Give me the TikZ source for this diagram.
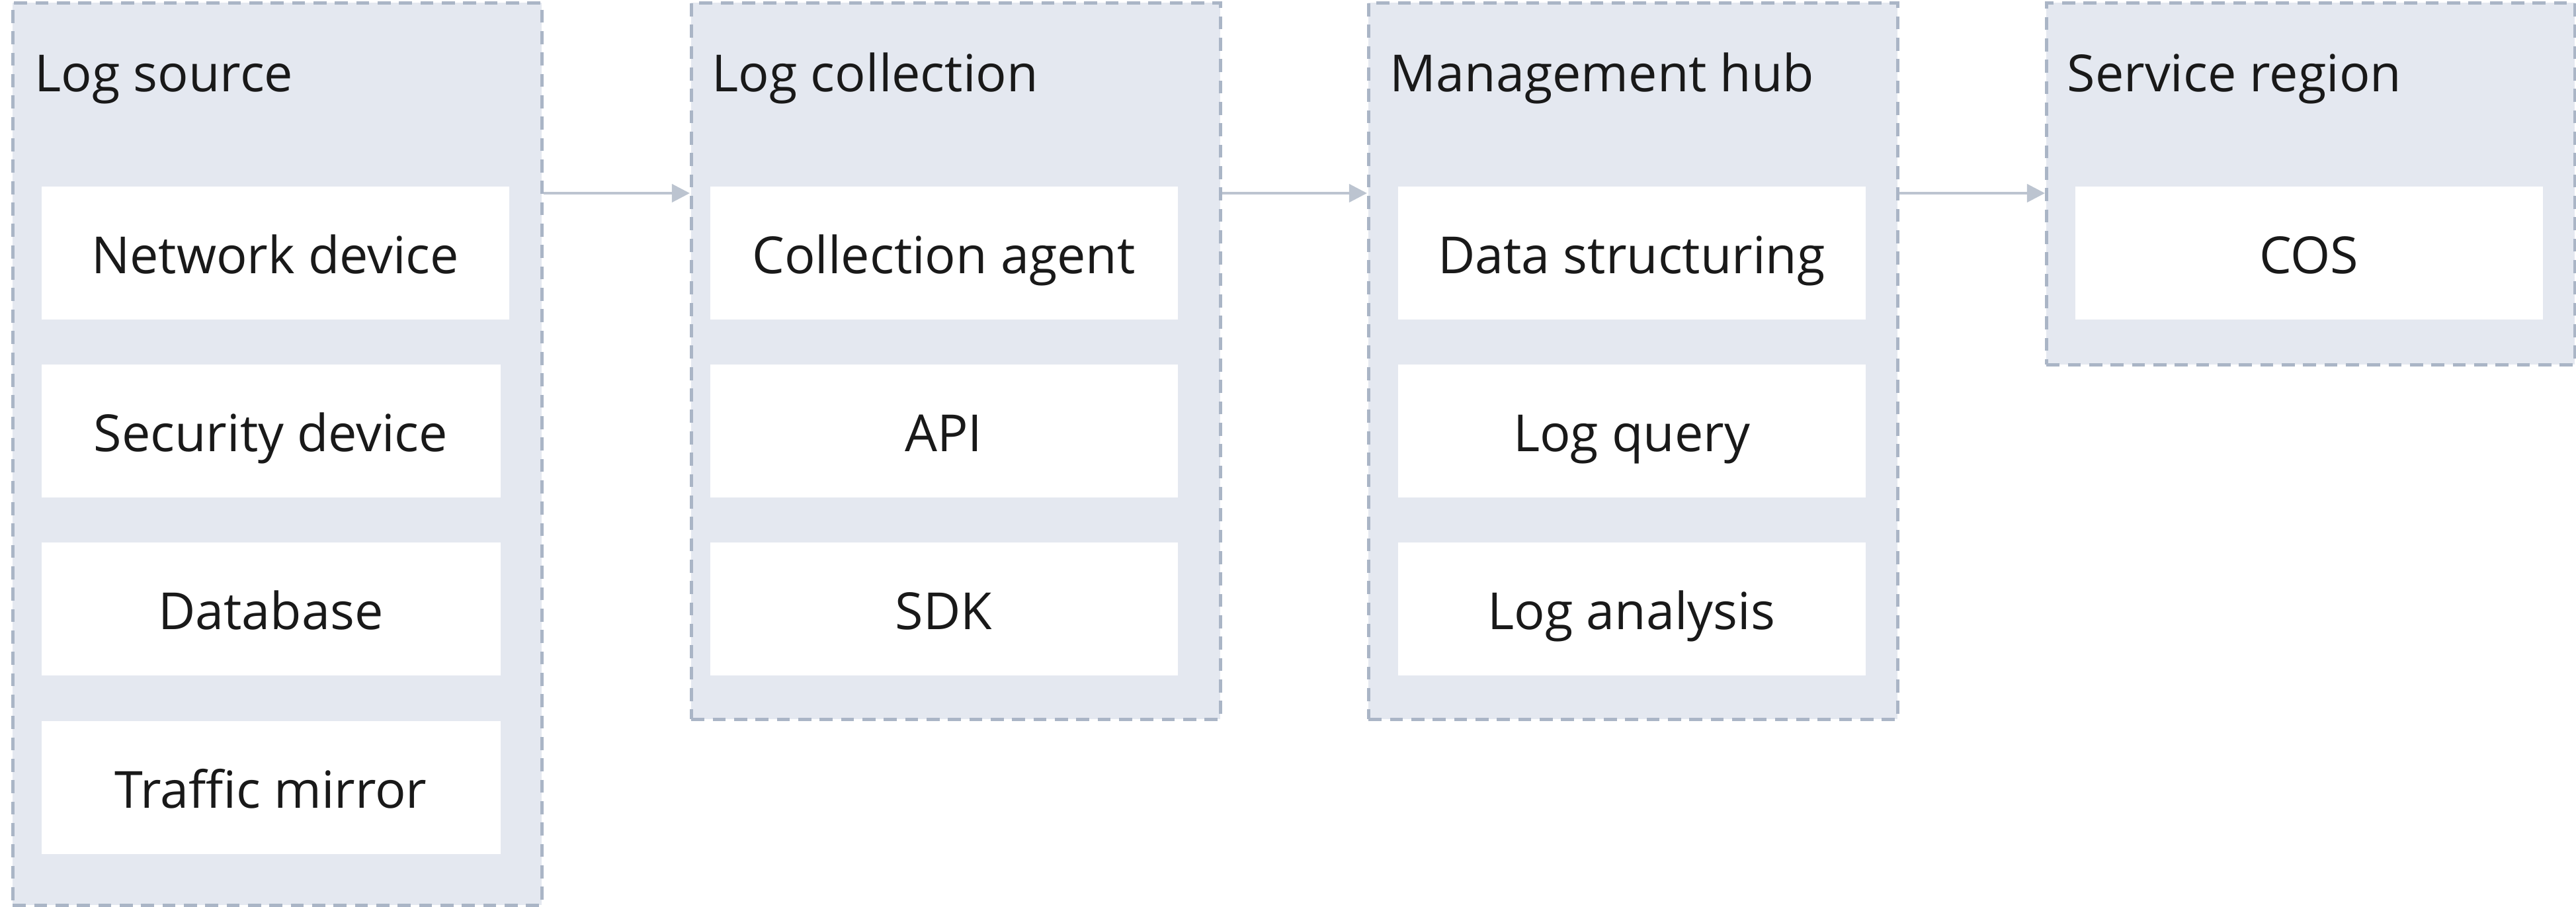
\documentclass[tikz,border=0pt]{standalone}
\usepackage{fontspec}
\setmainfont{Open Sans}
\usetikzlibrary{positioning,arrows.meta}
\definecolor{grpfill}{HTML}{E4E8F0}
\definecolor{grpline}{HTML}{AAB5C6}
\definecolor{arrline}{HTML}{BCC4D0}

\begin{document}
\begin{tikzpicture}[
  group/.style={draw=grpline, fill=grpfill, line width=1.35pt, dash pattern=on 5.6pt off 3.6pt,
    anchor=north west, minimum width=8cm, inner sep=0pt},
  title/.style={anchor=base west, font=\fontsize{22}{26}\selectfont, text=black!90, inner sep=0pt},
  item/.style={fill=white, minimum width=7.07cm, minimum height=2.01cm, inner sep=0pt,
    text height=0.75cm, text depth=0.13cm, font=\fontsize{22}{26}\selectfont, text=black!90},
  flow/.style={draw=arrline, line width=1.2pt, -{Triangle[length=7.7pt, width=7.7pt]}}
]
\useasboundingbox (0,0) rectangle (38.95,-13.70);

\node[group, minimum height=13.64cm] (src) at (0.17,-0.02) {};
\node[group, minimum height=10.83cm] (col) at (10.43,-0.02) {};
\node[group, minimum height=10.83cm] (hub) at (20.67,-0.02) {};
\node[group, minimum height=5.47cm, minimum width=7.99cm] (srv) at (30.92,-0.02) {};

\node[title] (srct) at ([xshift=0.35cm, yshift=-1.36cm]src.north west) {Log source};
\node[title] (colt) at ([xshift=0.33cm, yshift=-1.36cm]col.north west) {Log collection};
\node[title] (hubt) at ([xshift=0.34cm, yshift=-1.36cm]hub.north west) {Management hub};
\node[title] (srvt) at ([xshift=0.33cm, yshift=-1.36cm]srv.north west) {Service region};

\node[item] (netdev) at (4.16,-3.82) {Network device};
\node[item, minimum width=6.94cm, anchor=north west] (secdev) at ([yshift=-0.67cm]netdev.south west) {Security device};
\node[item, minimum width=6.94cm, below=0.67cm of secdev] (db) {Database};
\node[item, minimum width=6.94cm, below=0.67cm of db] (mirror) {Traffic mirror};

\node[item] (agent) at (14.27,-3.82) {Collection agent};
\node[item, below=0.67cm of agent] (api) {API};
\node[item, below=0.67cm of api] (sdk) {SDK};

\node[item] (struct) at (24.67,-3.82) {Data structuring};
\node[item, below=0.67cm of struct] (query) {Log query};
\node[item, below=0.67cm of query] (analysis) {Log analysis};

\node[item] (cos) at (34.91,-3.82) {COS};

\draw[flow] ([yshift=-2.9cm]src.north east) -- ([yshift=-2.9cm]col.north west);
\draw[flow] ([yshift=-2.9cm]col.north east) -- ([yshift=-2.9cm]hub.north west);
\draw[flow] ([yshift=-2.9cm]hub.north east) -- ([yshift=-2.9cm]srv.north west);

\end{tikzpicture}
\end{document}
